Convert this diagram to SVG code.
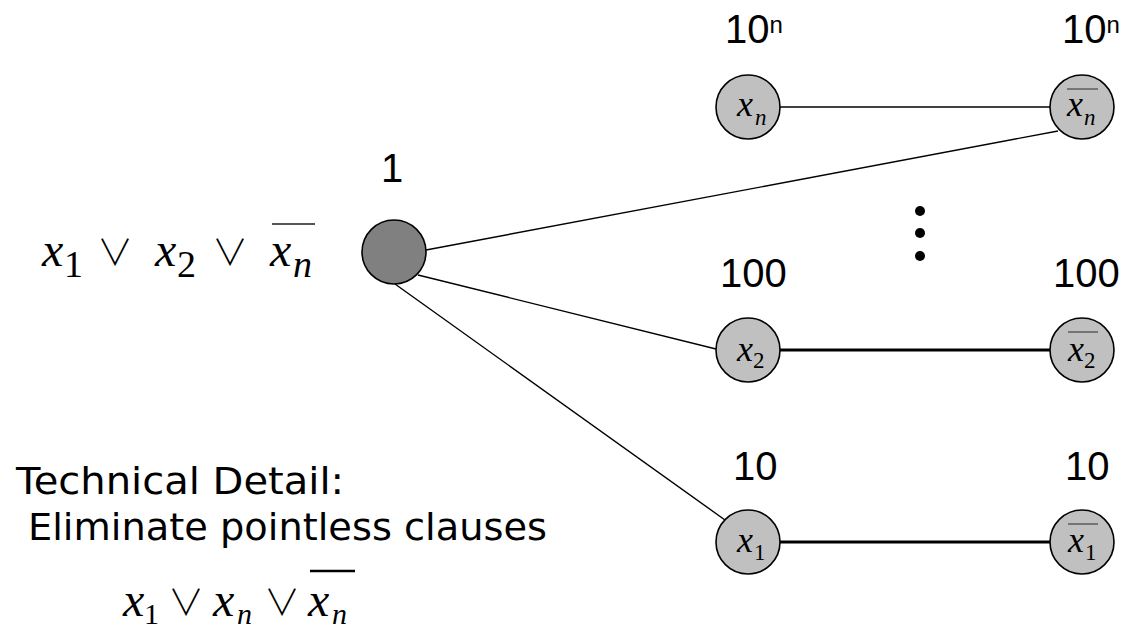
<svg xmlns="http://www.w3.org/2000/svg" width="1125" height="632" viewBox="0 0 1125 632">
<style>
.node{fill:#c0c0c0;stroke:#000;stroke-width:1.6}
.hub{fill:#808080;stroke:#000;stroke-width:1.6}
.num{font-family:"Liberation Sans",Arial,sans-serif;font-size:40px;fill:#000}
.txt{font-family:"DejaVu Sans",sans-serif;font-size:38px;fill:#000}
.mi{font-family:"Liberation Serif","Times New Roman",serif;font-style:italic;fill:#000}
.mr{font-family:"Liberation Serif","Times New Roman",serif;fill:#000}
.op{font-family:"Noto Sans CJK JP","DejaVu Sans",sans-serif;font-weight:300;fill:#000}
.thin{stroke:#000;stroke-width:1.4;fill:none}
.thick{stroke:#000;stroke-width:2.8;fill:none}
.bar{stroke:#555;stroke-width:1.4}
</style>
<rect width="1125" height="632" fill="#fff"/>
<g id="connectors">
<line class="thin" x1="426" y1="250" x2="1058" y2="131"/>
<line class="thin" x1="418" y1="275" x2="716" y2="349"/>
<line class="thin" x1="395" y1="284" x2="725" y2="520"/>
<line class="thin" x1="780" y1="107" x2="1050" y2="107"/>
<line class="thick" x1="780" y1="350" x2="1050" y2="350"/>
<line class="thick" x1="780" y1="542" x2="1050" y2="542"/>
</g>
<g id="clause">
<circle class="hub" cx="394" cy="252" r="32"/>
<text class="num" x="392" y="182" text-anchor="middle">1</text>
</g>
<g id="xn">
<circle class="node" cx="748" cy="107" r="32"/>
<text class="mi" x="737" y="116" font-size="36">x</text>
<text class="mi" x="755" y="125" font-size="23">n</text>
<text class="num" x="725" y="43">10<tspan font-size="24" dy="-10">n</tspan></text>
</g>
<g id="notxn">
<circle class="node" cx="1082" cy="107" r="32"/>
<line class="bar" x1="1067" y1="89" x2="1098" y2="89"/>
<text class="mi" x="1067" y="116" font-size="36">x</text>
<text class="mi" x="1084" y="125" font-size="23">n</text>
<text class="num" x="1062" y="43">10<tspan font-size="24" dy="-10">n</tspan></text>
</g>
<g id="x2">
<circle class="node" cx="748" cy="350" r="32"/>
<text class="mi" x="737" y="361" font-size="36">x</text>
<text class="mr" x="753" y="368" font-size="23">2</text>
<text class="num" x="720" y="287">100</text>
</g>
<g id="notx2">
<circle class="node" cx="1082" cy="350" r="32"/>
<line class="bar" x1="1068" y1="332" x2="1098" y2="332"/>
<text class="mi" x="1068" y="361" font-size="36">x</text>
<text class="mr" x="1084" y="368" font-size="23">2</text>
<text class="num" x="1053" y="287">100</text>
</g>
<g id="x1">
<circle class="node" cx="748" cy="542" r="32"/>
<text class="mi" x="737" y="552" font-size="36">x</text>
<text class="mr" x="754" y="560" font-size="23">1</text>
<text class="num" x="733" y="480">10</text>
</g>
<g id="notx1">
<circle class="node" cx="1082" cy="542" r="32"/>
<line class="bar" x1="1068" y1="524" x2="1098" y2="524"/>
<text class="mi" x="1068" y="552" font-size="36">x</text>
<text class="mr" x="1085" y="560" font-size="23">1</text>
<text class="num" x="1065" y="480">10</text>
</g>
<g id="dots" fill="#000">
<circle cx="920" cy="211" r="5"/>
<circle cx="920" cy="233" r="5"/>
<circle cx="920" cy="256" r="5"/>
</g>
<g id="formula-left">
<text class="mi" x="42" y="266" font-size="48">x</text>
<text class="mr" x="64" y="277" font-size="38">1</text>
<text class="op" x="115" y="266" font-size="36" text-anchor="middle">∨</text>
<text class="mi" x="155" y="266" font-size="48">x</text>
<text class="mr" x="177" y="277" font-size="38">2</text>
<text class="op" x="230" y="266" font-size="36" text-anchor="middle">∨</text>
<text class="mi" x="270" y="266" font-size="48">x</text>
<text class="mi" x="293" y="277" font-size="38">n</text>
<line x1="272" y1="224" x2="315" y2="224" stroke="#555" stroke-width="2"/>
</g>
<g id="note">
<text class="txt" x="16" y="494" textLength="328" lengthAdjust="spacingAndGlyphs">Technical Detail:</text>
<text class="txt" x="28" y="540" textLength="519" lengthAdjust="spacingAndGlyphs">Eliminate pointless clauses</text>
</g>
<g id="formula-bottom">
<text class="mi" x="123" y="616" font-size="48">x</text>
<text class="mr" x="144" y="624" font-size="30">1</text>
<text class="op" x="186" y="616" font-size="36" text-anchor="middle">∨</text>
<text class="mi" x="213" y="616" font-size="48">x</text>
<text class="mi" x="237" y="624" font-size="30">n</text>
<text class="op" x="282" y="616" font-size="36" text-anchor="middle">∨</text>
<text class="mi" x="308" y="616" font-size="48">x</text>
<text class="mi" x="332" y="624" font-size="30">n</text>
<line x1="310" y1="571" x2="355" y2="571" stroke="#000" stroke-width="2.5"/>
</g>
</svg>
